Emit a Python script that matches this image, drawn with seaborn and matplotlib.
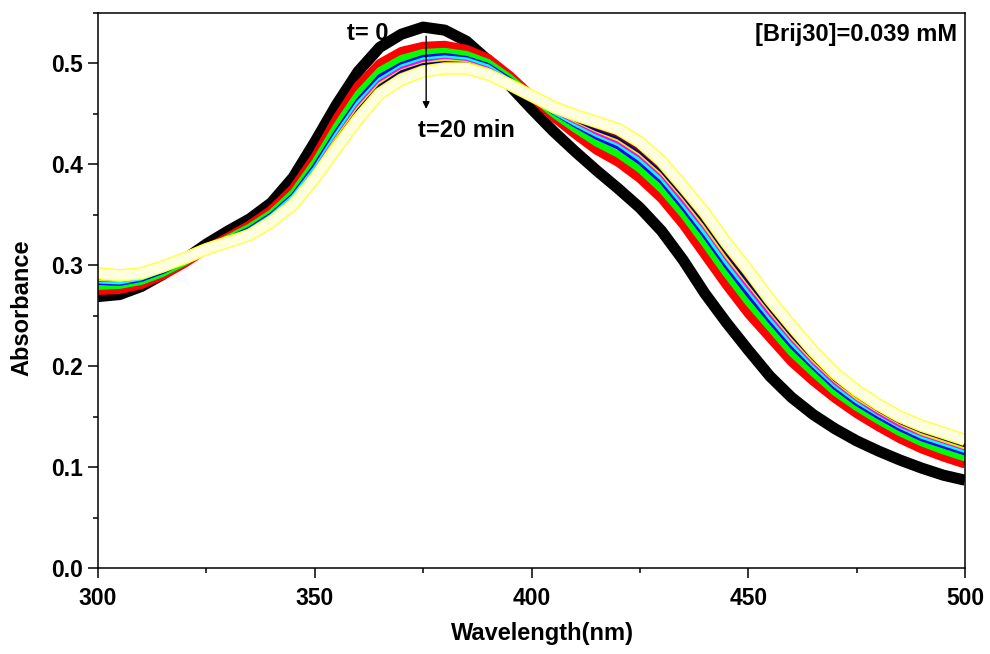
import matplotlib
matplotlib.use("Agg")
import matplotlib.pyplot as plt
import matplotlib.patheffects as pe
from matplotlib.ticker import MultipleLocator, FormatStrFormatter
import seaborn as sns
import pandas as pd

# ---------------- data ----------------
wavelength = list(range(300, 501, 5))

abs_t0 = [.269, .271, .279, .291, .306, .321, .334, .346, .362, .387, .422, .459, .492, .516, .529, .536,
          .533, .522, .503, .478, .455, .433, .413, .394, .376, .357, .334, .305, .272, .243, .216, .190,
          .169, .152, .138, .126, .116, .107, .099, .092, .087]
abs_t2 = [.275, .276, .281, .290, .302, .316, .328, .340, .355, .376, .407, .445, .478, .500, .512, .517,
          .518, .514, .505, .488, .468, .447, .430, .414, .402, .386, .366, .340, .310, .280, .252, .228,
          .204, .185, .168, .153, .140, .128, .118, .110, .103]
abs_t4 = [.279, .280, .284, .292, .303, .316, .327, .338, .352, .372, .402, .438, .470, .493, .505, .511,
          .512, .509, .501, .486, .468, .450, .435, .421, .410, .395, .375, .350, .321, .291, .263, .238,
          .213, .193, .174, .159, .146, .134, .124, .116, .109]
abs_t6 = [.283, .282, .286, .294, .304, .316, .326, .336, .350, .369, .398, .432, .463, .487, .499, .506,
          .508, .505, .498, .484, .468, .452, .439, .427, .417, .402, .383, .357, .329, .299, .271, .245,
          .220, .199, .179, .163, .150, .138, .128, .121, .114]
abs_t8 = [.284, .283, .287, .295, .305, .316, .325, .335, .349, .368, .396, .430, .461, .484, .497, .504,
          .506, .504, .497, .483, .468, .452, .440, .429, .420, .405, .386, .360, .332, .302, .275, .248,
          .223, .201, .181, .165, .152, .140, .130, .123, .116]
abs_t10 = [.285, .285, .288, .296, .305, .316, .325, .334, .348, .366, .394, .427, .458, .482, .495, .502,
           .504, .502, .495, .483, .468, .453, .442, .431, .422, .408, .389, .363, .336, .306, .278, .251,
           .226, .203, .183, .167, .153, .141, .132, .125, .118]
abs_t12 = [.286, .285, .288, .296, .305, .316, .325, .333, .347, .365, .393, .426, .456, .480, .493, .500,
           .503, .501, .494, .482, .468, .454, .443, .433, .424, .410, .391, .366, .338, .308, .281, .254,
           .228, .205, .185, .168, .155, .143, .133, .126, .119]
abs_t14 = [.287, .286, .289, .297, .306, .316, .324, .333, .346, .364, .392, .424, .454, .478, .492, .499,
           .501, .500, .493, .481, .468, .454, .444, .434, .426, .412, .393, .368, .341, .311, .283, .256,
           .230, .207, .186, .170, .156, .144, .135, .128, .121]
abs_t16 = [.288, .287, .290, .297, .306, .316, .324, .332, .346, .363, .390, .422, .452, .476, .490, .497,
           .500, .499, .492, .481, .468, .455, .445, .436, .428, .414, .395, .370, .343, .313, .286, .258,
           .232, .209, .188, .171, .157, .145, .136, .129, .122]
abs_t20 = [.292, .290, .292, .299, .307, .316, .323, .330, .343, .360, .386, .416, .445, .470, .484, .492,
           .495, .495, .489, .479, .468, .457, .449, .442, .435, .422, .403, .378, .352, .322, .295, .266,
           .240, .215, .193, .176, .162, .150, .141, .134, .127]

series_names = ["t=0", "t=2", "t=4", "t=6", "t=8", "t=10", "t=12", "t=14", "t=16", "t=20"]
series_values = [abs_t0, abs_t2, abs_t4, abs_t6, abs_t8, abs_t10, abs_t12, abs_t14, abs_t16, abs_t20]
series_colors = ["#000000", "#FF0000", "#00FF00", "#0000FF", "#00FFFF", "#FF00FF", "#E8E800",
                 "#000080", "#800040", "#FFFFE0"]
series_widths = [8.0, 6.5, 5.0, 3.6, 3.0, 2.4, 2.2, 2.0, 1.8, 7.0]

x_ticks = [300, 350, 400, 450, 500]
y_ticks = [0.0, 0.1, 0.2, 0.3, 0.4, 0.5]

# ---------------- style ----------------
sns.set_theme(style="ticks")
plt.rcParams["font.family"] = ["Liberation Sans", "DejaVu Sans"]
plt.rcParams["font.weight"] = "bold"
plt.rcParams["text.color"] = "black"
plt.rcParams["axes.labelcolor"] = "black"
plt.rcParams["xtick.color"] = "black"
plt.rcParams["ytick.color"] = "black"

fig = plt.figure(figsize=(9.9, 6.54), dpi=100)
ax = fig.add_axes([98 / 990, 86 / 654, 867 / 990, 555 / 654])

df = pd.DataFrame({"Wavelength": wavelength})
for name, vals in zip(series_names, series_values):
    df[name] = vals

for name, col, lw in zip(series_names, series_colors, series_widths):
    kw = {}
    if name == "t=20":
        kw["path_effects"] = [pe.Stroke(linewidth=lw + 2.0, foreground="#FFFF40"), pe.Normal()]
    sns.lineplot(data=df, x="Wavelength", y=name, color=col, linewidth=lw, ax=ax,
                 solid_capstyle="butt", solid_joinstyle="round", **kw)

ax.set_xlim(300, 500)
ax.set_ylim(0, 0.55)
ax.set_xticks(x_ticks)
ax.set_yticks(y_ticks)
ax.xaxis.set_minor_locator(MultipleLocator(25))
ax.yaxis.set_minor_locator(MultipleLocator(0.05))
ax.yaxis.set_major_formatter(FormatStrFormatter("%.1f"))

for s in ax.spines.values():
    s.set_linewidth(1.1)
    s.set_color("black")
ax.tick_params(which="major", direction="out", length=7, width=1.1, labelsize=16.5,
               top=False, right=False, colors="black")
ax.tick_params(which="minor", direction="out", length=3.6, width=1.1, top=False, right=False,
               colors="black")
ax.tick_params(axis="x", which="major", pad=7)
ax.tick_params(axis="y", which="major", pad=4)
for lab in ax.get_xticklabels() + ax.get_yticklabels():
    lab.set_fontweight("bold")
    lab.set_color("black")

ax.set_xlabel("Wavelength(nm)", fontsize=17, fontweight="bold", color="black")
ax.set_ylabel("Absorbance", fontsize=17, fontweight="bold", color="black")
ax.xaxis.set_label_coords(0.513, -0.097)
ax.yaxis.set_label_coords(-0.075, 0.469)

# annotations
ax.annotate("", xy=(375.7, 0.455), xytext=(375.7, 0.527),
            arrowprops=dict(arrowstyle="-|>", color="black", lw=1.0, mutation_scale=10,
                            shrinkA=0, shrinkB=0), zorder=5)
ax.text(367.0, 0.530, "t= 0", ha="right", va="center", fontsize=17, fontweight="bold",
        color="black", zorder=6)
ax.text(0.369, 0.789, "t=20 min", transform=ax.transAxes, ha="left", va="center",
        fontsize=17, fontweight="bold", color="black", zorder=6)
ax.text(0.991, 0.962, "[Brij30]=0.039 mM", transform=ax.transAxes, ha="right", va="center",
        fontsize=17, fontweight="bold", color="black", zorder=6)

fig.savefig("out.png", dpi=100)
